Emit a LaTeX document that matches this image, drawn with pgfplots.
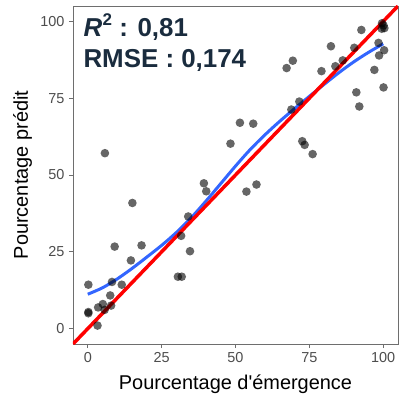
\documentclass[border=0pt]{standalone}
\usepackage{pgfplots}
\pgfplotsset{compat=1.18}
\usepackage{fontspec}
\setmainfont{Liberation Sans}
\definecolor{pointgray}{RGB}{0,0,0}
\definecolor{loessblue}{HTML}{3366FF}
\definecolor{statnavy}{RGB}{26,44,62}
\definecolor{ticktext}{RGB}{77,77,77}
\definecolor{framegray}{RGB}{110,110,110}

\pgfplotstableread{
x y
5.8 57.1
48.3 60.2
51.5 67.0
56.0 66.7
100.1 98.7
99.5 97.6
100.4 97.8
99.6 99.4
92.6 97.2
82.3 91.9
90.2 91.4
98.4 93.0
100.3 90.6
98.6 88.9
86.3 87.3
83.8 85.4
79.1 83.8
97.0 84.2
69.4 87.2
67.3 84.8
90.9 76.9
100.1 78.5
91.9 72.3
71.6 73.9
68.9 71.3
72.6 61.0
73.4 59.8
76.1 56.8
15.1 40.9
39.3 47.3
40.1 44.7
34.0 36.5
31.6 30.2
34.6 25.2
30.5 16.9
31.8 16.9
9.1 26.7
18.2 27.1
14.6 22.2
8.2 15.2
11.5 14.3
0.2 14.3
7.6 10.8
3.5 6.9
5.1 8.0
5.7 6.1
7.9 7.5
0.2 5.0
0.2 5.4
3.3 1.0
53.7 44.6
57.1 46.9
}\obsdata

\pgfplotstableread{
x y
0 11.2
5 13.3
10 16.2
15 19.6
20 23.3
25 27.1
30 31.3
35 36.1
40 41.5
45 47.2
50 52.9
55 58.3
60 63.1
65 67.5
70 71.6
75 75.6
80 79.5
85 83.3
90 86.8
95 89.9
100 92.7
}\loessfit

\begin{document}
\begin{tikzpicture}
\path[use as bounding box] (-73bp,-51bp) rectangle (329bp,344bp);
\begin{axis}[
  scale only axis,
  width=325bp, height=338bp,
  xmin=-5, xmax=105, ymin=-5, ymax=105,
  xtick={0,25,50,75,100}, ytick={0,25,50,75,100},
  tick align=outside, tick pos=left,
  major tick length=4bp,
  axis line style={framegray, line width=0.9bp},
  every tick/.style={framegray, line width=0.9bp},
  /pgf/number format/assume math mode=true,
  ticklabel style={font=\fontsize{14.5}{14.5}\selectfont, text=ticktext},
  xticklabel style={yshift=-1bp},
  yticklabel style={xshift=-1bp},
  xlabel={Pourcentage d\textquotesingle émergence},
  ylabel={Pourcentage prédit},
  label style={font=\fontsize{20}{20}\selectfont, text=black},
  xlabel style={at={(axis description cs:0.5,-0.134)}, anchor=base},
  ylabel style={at={(axis description cs:-0.1385,0.5)}, anchor=base},
  clip=true,
]
\addplot[only marks, mark=*, mark size=4.3bp, draw opacity=0,
  mark options={draw opacity=0, fill=pointgray, fill opacity=0.6}]
  table[x=x, y=y] {\obsdata};
\addplot[loessblue, line width=3bp, smooth] table[x=x, y=y] {\loessfit};
\addplot[red, line width=3.5bp] coordinates {(-5,-5) (105,105)};
\node[anchor=base west, font=\fontsize{26}{26}\selectfont\bfseries, text=statnavy]
  at (rel axis cs:0.0215,0.911) {\textit{R}\kern0.5bp\raisebox{0.42em}{\fontsize{17}{17}\selectfont 2} : 0,81};
\node[anchor=base west, font=\fontsize{26}{26}\selectfont\bfseries, text=statnavy]
  at (rel axis cs:0.0215,0.817) {RMSE : 0,174};
\end{axis}
\end{tikzpicture}
\end{document}
